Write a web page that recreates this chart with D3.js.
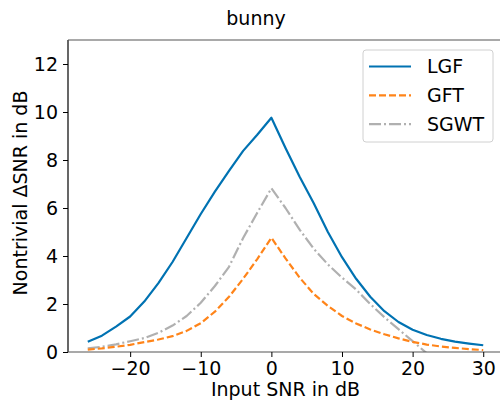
<!DOCTYPE html>
<html><head><meta charset="utf-8">
<script src="https://cdn.jsdelivr.net/npm/d3@7"></script>
<style>body{margin:0;background:#fff}svg{display:block}text{font-family:"DejaVu Sans",sans-serif;fill:#000}</style>
</head><body><svg id="c" width="500" height="402"></svg>
<script>
const snr = [-26,-24,-22,-20,-18,-16,-14,-12,-10,-8,-6,-4,-2,0,2,4,6,8,10,12,14,16,18,20,22,24,26,28,30];
const lgf = [0.43,0.68,1.06,1.48,2.1,2.87,3.75,4.75,5.75,6.68,7.55,8.38,9.05,9.76,8.5,7.3,6.2,5.0,3.95,3.05,2.3,1.7,1.25,0.93,0.71,0.55,0.43,0.35,0.28];
const gft = [0.1,0.15,0.22,0.3,0.41,0.52,0.66,0.88,1.2,1.68,2.3,3.05,3.87,4.76,3.9,3.1,2.42,1.92,1.5,1.19,0.94,0.74,0.57,0.42,0.31,0.23,0.17,0.12,0.08];
const sgwt = [0.15,0.22,0.32,0.45,0.58,0.8,1.1,1.5,2.05,2.75,3.55,4.75,5.8,6.82,6.0,5.1,4.3,3.65,3.1,2.6,2.0,1.45,0.95,0.45,-0.05,-0.55,-1.05,-1.55,-2.05];
const xTicks = [-20,-10,0,10,20,30];
const yTicks = [0,2,4,6,8,10,12];
const seriesNames = ["LGF","GFT","SGWT"];

const L=68,R=503,T=40,B=352;
const FS="19px";
const svg=d3.select("#c");
const x=d3.scaleLinear().domain([-28.8,32.8]).range([L,R]);
const y=d3.scaleLinear().domain([0,13]).range([B,T]);

svg.append("defs").append("clipPath").attr("id","pc").append("rect").attr("x",L).attr("y",T).attr("width",R-L).attr("height",B-T);

const series=[
 {name:seriesNames[0],v:lgf,color:"#0072b2",dash:null},
 {name:seriesNames[1],v:gft,color:"#ff8419",dash:"7,3"},
 {name:seriesNames[2],v:sgwt,color:"#b0b0b0",dash:"12,3,2,3"}
];
const line=d3.line().x((d,i)=>x(snr[i])).y(d=>y(d));
const g=svg.append("g").attr("clip-path","url(#pc)");
series.slice().reverse().forEach(s=>{
 g.append("path").attr("d",line(s.v)).attr("fill","none").attr("stroke",s.color).attr("stroke-width",2.2)
  .attr("stroke-dasharray",s.dash).attr("stroke-linejoin","round");
});

// spines
svg.append("line").attr("x1",L).attr("x2",L).attr("y1",T).attr("y2",B).attr("stroke","#000").attr("stroke-width",1.2);
svg.append("line").attr("x1",L).attr("x2",R).attr("y1",B).attr("y2",B).attr("stroke","#555").attr("stroke-width",1.2);
svg.append("line").attr("x1",L).attr("x2",R).attr("y1",T).attr("y2",T).attr("stroke","#555").attr("stroke-width",1.2);
svg.append("line").attr("x1",R).attr("x2",R).attr("y1",T).attr("y2",B).attr("stroke","#555").attr("stroke-width",1.2);

// axes
const xa=svg.append("g").attr("transform",`translate(0,${B})`).call(d3.axisBottom(x).tickValues(xTicks).tickSize(5).tickPadding(5).tickFormat(d=>d<0?"\u2212"+Math.abs(d):d));
const ya=svg.append("g").attr("transform",`translate(${L},0)`).call(d3.axisLeft(y).tickValues(yTicks).tickSize(5).tickPadding(5));
[xa,ya].forEach(a=>{a.select(".domain").remove();a.selectAll("text").style("font-family","DejaVu Sans").style("font-size",FS).attr("fill","#000");a.selectAll("line").attr("stroke","#000");});
ya.selectAll("text").attr("dy","0.36em");

svg.append("text").attr("x",285.5).attr("y",396).attr("text-anchor","middle").style("font-size",FS).text("Input SNR in dB");
svg.append("text").attr("transform","translate(27,193) rotate(-90)").attr("text-anchor","middle").style("font-size",FS).text("Nontrivial \u0394SNR in dB");
svg.append("text").attr("x",256).attr("y",25).attr("text-anchor","middle").style("font-size",FS).text("bunny");

// legend
const lg=svg.append("g");
lg.append("rect").attr("x",363).attr("y",50).attr("width",130).attr("height",92).attr("rx",3).attr("fill","#fff").attr("fill-opacity",0.8).attr("stroke","#d0d0d0");
series.forEach((s,i)=>{
 const yy=66.5+i*28.8;
 lg.append("line").attr("x1",369).attr("x2",411).attr("y1",yy).attr("y2",yy).attr("stroke",s.color).attr("stroke-width",2.2).attr("stroke-dasharray",s.dash);
 lg.append("text").attr("x",427).attr("y",yy).attr("dy","0.36em").style("font-size",FS).text(s.name);
});
</script></body></html>
